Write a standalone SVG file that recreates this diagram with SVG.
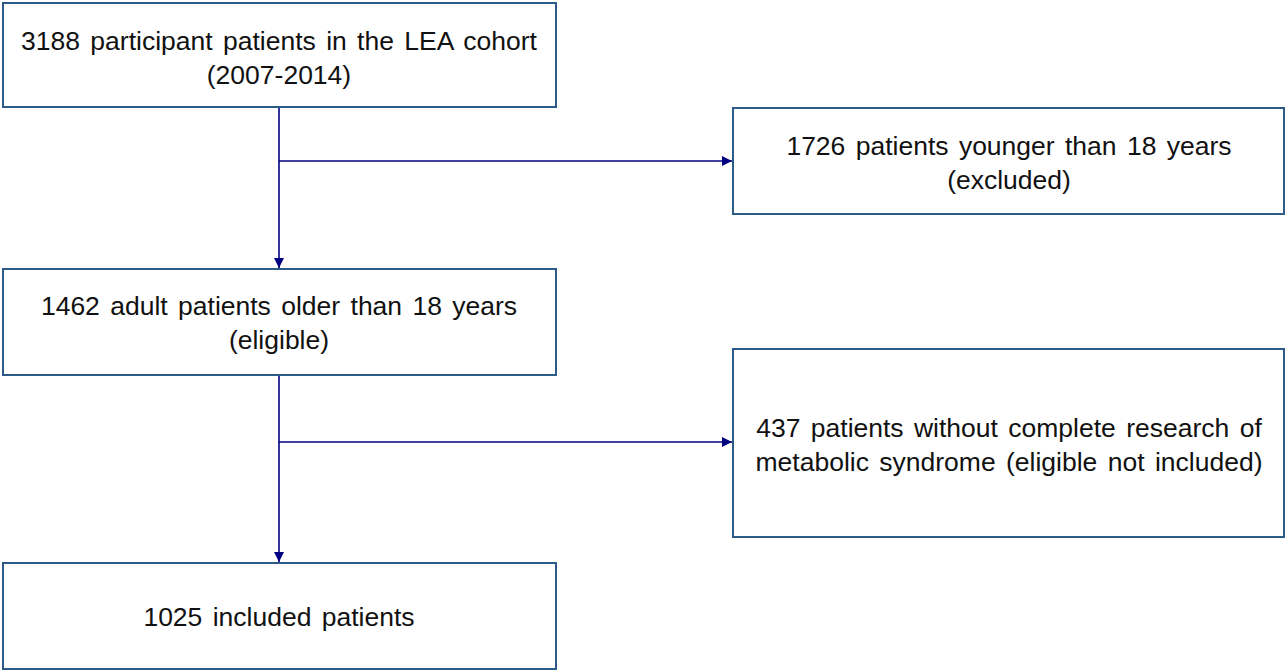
<svg xmlns="http://www.w3.org/2000/svg" width="1285" height="671" viewBox="0 0 1285 671">
<style>
.box{fill:#fff;stroke:#2E5A87;stroke-width:2}
.t{font-family:"Liberation Sans",Arial,sans-serif;font-size:26.5px;fill:#111;text-anchor:middle;word-spacing:3px}
.c{fill:none;stroke:#000080;stroke-width:1.6}
</style>
<defs>
<marker id="ah" viewBox="0 0 10 10" refX="10" refY="5" markerWidth="11" markerHeight="10" markerUnits="userSpaceOnUse" orient="auto">
<path d="M0,0 L10,5 L0,10 z" fill="#000080"/>
</marker>
</defs>
<rect width="1285" height="671" fill="#fff"/>
<g id="connectors">
<path class="c" d="M279,107 V268" marker-end="url(#ah)"/>
<path class="c" d="M279,161 H732" marker-end="url(#ah)"/>
<path class="c" d="M279,375 V562" marker-end="url(#ah)"/>
<path class="c" d="M279,442 H732" marker-end="url(#ah)"/>
</g>
<g id="n1">
<rect class="box" x="3" y="3" width="553" height="104"/>
<text class="t" x="279" y="50">3188 participant patients in the LEA cohort</text>
<text class="t" x="279" y="84">(2007-2014)</text>
</g>
<g id="n2">
<rect class="box" x="733" y="108" width="551" height="106"/>
<text class="t" x="1009" y="155">1726 patients younger than 18 years</text>
<text class="t" x="1009" y="189">(excluded)</text>
</g>
<g id="n3">
<rect class="box" x="3" y="269" width="553" height="106"/>
<text class="t" x="279" y="315">1462 adult patients older than 18 years</text>
<text class="t" x="279" y="349">(eligible)</text>
</g>
<g id="n4">
<rect class="box" x="733" y="349" width="551" height="188"/>
<text class="t" x="1009" y="437">437 patients without complete research of</text>
<text class="t" x="1009" y="471">metabolic syndrome (eligible not included)</text>
</g>
<g id="n5">
<rect class="box" x="3" y="563" width="553" height="106"/>
<text class="t" x="279" y="626">1025 included patients</text>
</g>
</svg>
